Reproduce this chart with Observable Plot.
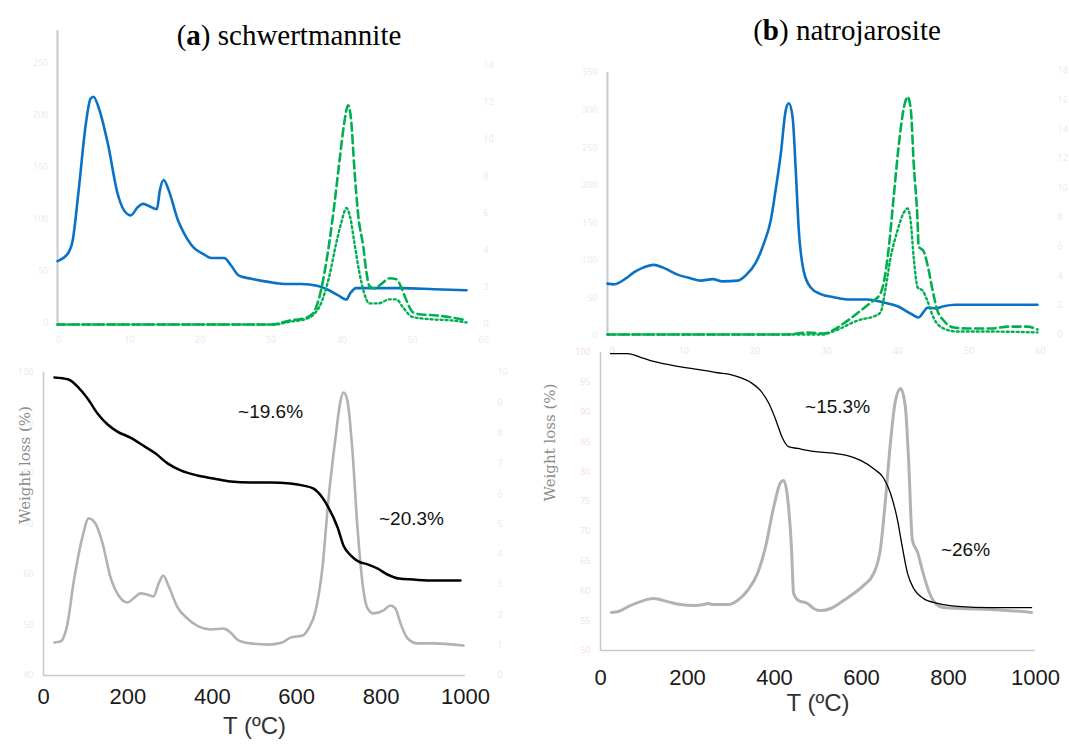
<!DOCTYPE html>
<html><head><meta charset="utf-8">
<script src="https://cdn.jsdelivr.net/npm/d3@7"></script>
<script src="https://cdn.jsdelivr.net/npm/@observablehq/plot@0.6"></script>
<style>
body{margin:0;background:#fff;}
#wrap{position:relative;width:1069px;height:749px;overflow:hidden;background:#fff;}
#wrap svg{position:absolute;left:0;top:0;}
.title{position:absolute;font-family:"Liberation Serif","Times New Roman",serif;font-size:29px;line-height:29px;color:#000;white-space:nowrap;transform:translateX(-50%);}
</style></head><body>
<div id="wrap">
  <div class="title" style="left:289px;top:21px">(<b>a</b>) schwertmannite</div>
  <div class="title" style="left:847px;top:16px">(<b>b</b>) natrojarosite</div>
</div>
<script>
// ---------- DATA ----------
// (a) schwertmannite, upper panel (blue: left axis; green: right axis)
const aBlueT = [33,57,69,83,100,111,118,130,152,175,190,206,223,235,249,268,275,284,296,318,332,355,377,396,408,427,443,462,491,531,569,609,649,675,697,716,725,739,768,846,924,1000];
const aBlueV = [60,67,80,128,192,216,218,208,173,125,109,104,112,115,113,110,128,138,128,99,87,73,67,63,63,63,56,46,43,40,38,38,36,32,27,23,29,34,34,34,33,32];
const aDashT = [33,545,554,585,616,637,652,668,685,699,711,720,727,735,744,756,763,770,782,799,818,834,846,858,874,893,924,964,1000];
const aDashV = [0,0,0.05,0.22,0.33,0.6,1.47,3.3,6.0,8.7,10.9,11.85,11.1,8.4,5.9,4.2,2.9,2.1,1.95,2.2,2.5,2.45,2.0,1.3,0.65,0.54,0.5,0.38,0.22];
const aDotT = [33,545,585,616,637,656,675,692,704,716,725,735,746,758,770,791,818,834,850,870,893,924,964,1000];
const aDotV = [0,0,0.16,0.27,0.5,1.14,2.55,4.4,5.5,6.3,5.8,4.4,2.9,1.7,1.14,1.14,1.36,1.36,0.92,0.43,0.33,0.27,0.22,0.11];
// (b) natrojarosite, upper panel
const bBlueT = [20,34,62,80,100,125,148,180,210,232,260,282,317,335,358,376,392,403,415,426,433,442,449,456,467,483,506,535,567,613,649,681,711,729,740,749,768,786,813,854,932,1000];
const bBlueV = [69,68,76,84,90,94,90,81,76,73,75,72,73,80,97,122,153,193,242,299,309,290,220,140,86,64,55,51,48,48,44,39,29,24,31,37,36,39,41,41,41,41];
const bDashT = [20,430,453,476,513,533,551,574,597,620,642,649,661,672,683,695,704,711,718,727,729,740,749,761,772,786,809,841,893,938,977,1000];
const bDashV = [0,0,0.07,0.14,0.07,0.27,0.61,1.09,1.63,2.17,2.79,3.46,5.91,9.31,12.7,15.4,16.2,15.4,11.6,7.5,6.0,5.7,4.8,3.0,1.63,0.95,0.48,0.41,0.41,0.54,0.54,0.34];
const bDotT = [20,513,528,551,574,597,626,642,654,665,681,695,704,711,718,727,738,749,763,786,818,893,1000];
const bDotV = [0,0,0.14,0.41,0.75,1.02,1.22,1.5,3.2,5.2,7.1,8.3,8.6,7.7,5.2,3.2,3.0,2.3,1.15,0.41,0.2,0.2,0.14];
// (a) lower panel: TG (weight %) and DTG
const cTgT = [26,59,83,104,128,152,175,206,237,265,294,325,365,403,443,491,538,585,616,640,661,675,697,711,728,746,768,791,815,842,877,924,988];
const cTgV = [99.0,98.6,97.0,94.9,91.9,89.7,88.3,87.1,85.5,84.0,82.0,80.6,79.6,79.0,78.4,78.2,78.2,78.0,77.6,77.0,75.2,73.3,69.3,65.7,63.8,62.6,62.0,61.2,60.0,59.2,59.0,58.8,58.8];
const cDtgT = [26,40,57,71,92,107,123,140,159,178,199,213,230,246,261,273,284,296,318,341,367,396,427,443,462,491,531,566,585,614,628,645,661,675,692,704,711,720,732,744,756,768,782,806,822,834,846,863,886,924,995];
const cDtgV = [1.09,1.12,1.72,3.04,4.55,5.18,5.02,4.36,3.23,2.64,2.41,2.54,2.71,2.67,2.61,3.04,3.3,2.97,2.24,1.88,1.62,1.52,1.55,1.42,1.16,1.06,1.02,1.09,1.25,1.32,1.55,2.15,3.56,5.78,7.85,9.08,9.34,9.08,7.43,4.88,3.04,2.21,2.05,2.15,2.31,2.21,1.72,1.22,1.06,1.06,0.99];
// (b) lower panel
const dTgT = [23,62,92,122,154,191,230,269,299,322,345,368,386,402,418,432,453,490,536,568,598,628,651,667,683,694,706,720,743,775,821,897,991];
const dTgV = [99.8,99.8,99.2,98.5,98.0,97.5,97.1,96.6,96.3,95.8,95.0,93.6,91.6,88.9,85.7,84.2,83.9,83.4,83.1,82.7,81.9,80.5,78.9,76.3,71.8,67.3,62.9,60.4,58.7,57.9,57.4,57.2,57.2];
const dDtgT = [25,41,69,92,122,154,184,214,237,246,260,292,315,338,361,379,398,414,421,430,439,444,455,476,490,506,529,552,582,605,628,644,655,667,678,690,701,708,717,729,740,754,770,789,828,897,991];
const dDtgV = [1.27,1.3,1.5,1.63,1.73,1.63,1.53,1.5,1.53,1.57,1.53,1.53,1.67,2.0,2.57,3.43,4.77,5.6,5.67,5.1,3.43,1.9,1.67,1.57,1.4,1.33,1.4,1.6,1.9,2.17,2.57,3.43,5.0,7.0,8.33,8.73,8.1,6.43,3.67,3.27,2.67,2.0,1.57,1.43,1.4,1.37,1.27];

// tick labels
const tempTicks = [0,200,400,600,800,1000];
const aTopLeftTicks = [0,50,100,150,200,250];
const aTopRightTicks = [0,2,4,6,8,10,12,14];
const bTopLeftTicks = [0,50,100,150,200,250,300,350];
const bTopRightTicks = [0,2,4,6,8,10,12,14,16,18];
const timeTicks = [0,10,20,30,40,50,60];
const aTgTicks = [40,50,60,70,80,90,100];
const dtgTicks = [0,1,2,3,4,5,6,7,8,9,10];
const bTgTicks = [50,55,60,65,70,75,80,85,90,95,100];
const yLabel = "Weight loss (%)";
const xLabel = "T (ºC)";
const aNotes = [{T:538, v:92.1, label:"~19.6%"}, {T:872, v:71.1, label:"~20.3%"}];
const bNotes = [{T:545, v:90.8, label:"~15.3%"}, {T:839, v:66.8, label:"~26%"}];

// ---------- helpers ----------
const W = 1069, H = 749;
const SANS = "Liberation Sans, Arial, sans-serif";
const BLUE = "#0a72c6", GREEN = "#00b050", GRAY = "#b2b2b2", AXIS = "#c9c9c9";
const FAINT = "#ebebeb", FAINTPINK = "#f4e2e2";
const rows = (T, V) => T.map((t, i) => ({T: t, v: V[i]}));
const wrap = document.getElementById("wrap");
function add(o) {
  const svg = Plot.plot({width: W, height: H, style: {background: "transparent", overflow: "visible"}, ...o});
  wrap.appendChild(svg);
}
const faintY = (anchor, ticks, pad, color) => Plot.axisY({anchor, ticks, tickSize: 0, tickPadding: pad, fontSize: 9, fill: color, stroke: color, label: null});

// ===== (a) upper: blue, left axis =====
add({
  marginLeft: 57, marginRight: 603, marginTop: 63, marginBottom: 426,
  x: {domain: [33, 1000], axis: null},
  y: {domain: [0, 250]},
  marks: [
    Plot.ruleX([33], {stroke: AXIS, strokeWidth: 2, insetTop: -33}),
    faintY("left", aTopLeftTicks, 9, FAINT),
    Plot.line(rows(aBlueT, aBlueV), {x: "T", y: "v", stroke: BLUE, strokeWidth: 2.6, curve: "monotone-x"})
  ]
});
// (a) upper: green, right axis
add({
  marginLeft: 57, marginRight: 603, marginTop: 65, marginBottom: 425,
  x: {domain: [33, 1000], axis: null},
  y: {domain: [0, 14]},
  marks: [
    faintY("right", aTopRightTicks, 17, FAINT),
    Plot.line(rows(aDashT, aDashV), {x: "T", y: "v", stroke: GREEN, strokeWidth: 2.6, strokeDasharray: "8,4.5", curve: "monotone-x"}),
    Plot.line(rows(aDotT, aDotV), {x: "T", y: "v", stroke: GREEN, strokeWidth: 2.4, strokeDasharray: "2,3", curve: "monotone-x"})
  ]
});
// (a) upper: faint time axis
add({
  marginBottom: 425,
  x: {domain: [0, 60], range: [58, 483]},
  marks: [Plot.axisX({ticks: timeTicks, tickSize: 0, tickPadding: 12, fontSize: 9, fill: FAINT, stroke: FAINT, label: null})]
});

// ===== (b) upper: blue, left axis =====
add({
  marginLeft: 607, marginRight: 32, marginTop: 72, marginBottom: 414,
  x: {domain: [20, 1000], axis: null},
  y: {domain: [0, 350]},
  marks: [
    Plot.ruleX([20], {stroke: AXIS, strokeWidth: 2}),
    faintY("left", bTopLeftTicks, 10, FAINT),
    Plot.line(rows(bBlueT, bBlueV), {x: "T", y: "v", stroke: BLUE, strokeWidth: 2.6, curve: "monotone-x"})
  ]
});
// (b) upper: green, right axis
add({
  marginLeft: 607, marginRight: 32, marginTop: 70, marginBottom: 415,
  x: {domain: [20, 1000], axis: null},
  y: {domain: [0, 18]},
  marks: [
    faintY("right", bTopRightTicks, 20, FAINT),
    Plot.line(rows(bDashT, bDashV), {x: "T", y: "v", stroke: GREEN, strokeWidth: 2.6, strokeDasharray: "8,4.5", curve: "monotone-x"}),
    Plot.line(rows(bDotT, bDotV), {x: "T", y: "v", stroke: GREEN, strokeWidth: 2.4, strokeDasharray: "2,3", curve: "monotone-x"})
  ]
});
// (b) upper: faint time axis
add({
  marginBottom: 414,
  x: {domain: [0, 60], range: [612, 1040]},
  marks: [Plot.axisX({ticks: timeTicks, tickSize: 0, tickPadding: 12, fontSize: 9, fill: FAINTPINK, stroke: FAINTPINK, label: null})]
});

// ===== (a) lower: DTG (right axis) =====
add({
  marginLeft: 43, marginRight: 604, marginTop: 372, marginBottom: 74,
  x: {domain: [0, 1000], axis: null},
  y: {domain: [0, 10]},
  marks: [
    faintY("right", dtgTicks, 32, FAINT),
    Plot.line(rows(cDtgT, cDtgV), {x: "T", y: "v", stroke: GRAY, strokeWidth: 2.6, curve: "monotone-x"})
  ]
});
// (a) lower: TG (left axis)
add({
  marginLeft: 43, marginRight: 604, marginTop: 372, marginBottom: 74,
  x: {domain: [0, 1000]},
  y: {domain: [40, 100]},
  marks: [
    Plot.ruleY([40], {stroke: AXIS, strokeWidth: 1.6}),
    Plot.ruleX([0], {stroke: AXIS, strokeWidth: 1.6}),
    faintY("left", aTgTicks, 10, FAINT),
    Plot.axisX({ticks: tempTicks, tickFormat: "d", tickSize: 0, tickPadding: 13, fontSize: 22, fontFamily: SANS, fill: "#1a1a1a", label: null}),
    Plot.text([yLabel], {frameAnchor: "left", rotate: -90, dx: -18, fontSize: 15, fontFamily: "DejaVu Serif, serif", fill: "#8c8c8c"}),
    Plot.text([xLabel], {frameAnchor: "bottom", dy: 58, fontSize: 24, fontFamily: SANS, fill: "#333"}),
    Plot.line(rows(cTgT, cTgV), {x: "T", y: "v", stroke: "#000", strokeWidth: 2.5, curve: "monotone-x"}),
    Plot.text(aNotes, {x: "T", y: "v", text: "label", fontSize: 19, fontFamily: SANS, fill: "#111"})
  ]
});

// ===== (b) lower: DTG =====
add({
  marginLeft: 600, marginRight: 34, marginTop: 350, marginBottom: 99,
  x: {domain: [0, 1000], axis: null},
  y: {domain: [0, 10], axis: null},
  marks: [
    Plot.line(rows(dDtgT, dDtgV), {x: "T", y: "v", stroke: GRAY, strokeWidth: 3, curve: "monotone-x"})
  ]
});
// (b) lower: TG
add({
  marginLeft: 600, marginRight: 34, marginTop: 352, marginBottom: 99,
  x: {domain: [0, 1000]},
  y: {domain: [50, 100]},
  marks: [
    Plot.ruleY([50], {stroke: AXIS, strokeWidth: 1.6}),
    Plot.ruleX([0], {stroke: AXIS, strokeWidth: 1.6}),
    faintY("left", bTgTicks, 10, FAINTPINK),
    Plot.axisX({ticks: tempTicks, tickFormat: "d", tickSize: 0, tickPadding: 19, fontSize: 22, fontFamily: SANS, fill: "#1a1a1a", label: null}),
    Plot.text([yLabel], {frameAnchor: "left", rotate: -90, dx: -50, fontSize: 15, fontFamily: "DejaVu Serif, serif", fill: "#8c8c8c"}),
    Plot.text([xLabel], {frameAnchor: "bottom", dy: 60, fontSize: 24, fontFamily: SANS, fill: "#333"}),
    Plot.line(rows(dTgT, dTgV), {x: "T", y: "v", stroke: "#000", strokeWidth: 1.3, curve: "monotone-x"}),
    Plot.text(bNotes, {x: "T", y: "v", text: "label", fontSize: 19, fontFamily: SANS, fill: "#111"})
  ]
});
</script>
</body></html>
